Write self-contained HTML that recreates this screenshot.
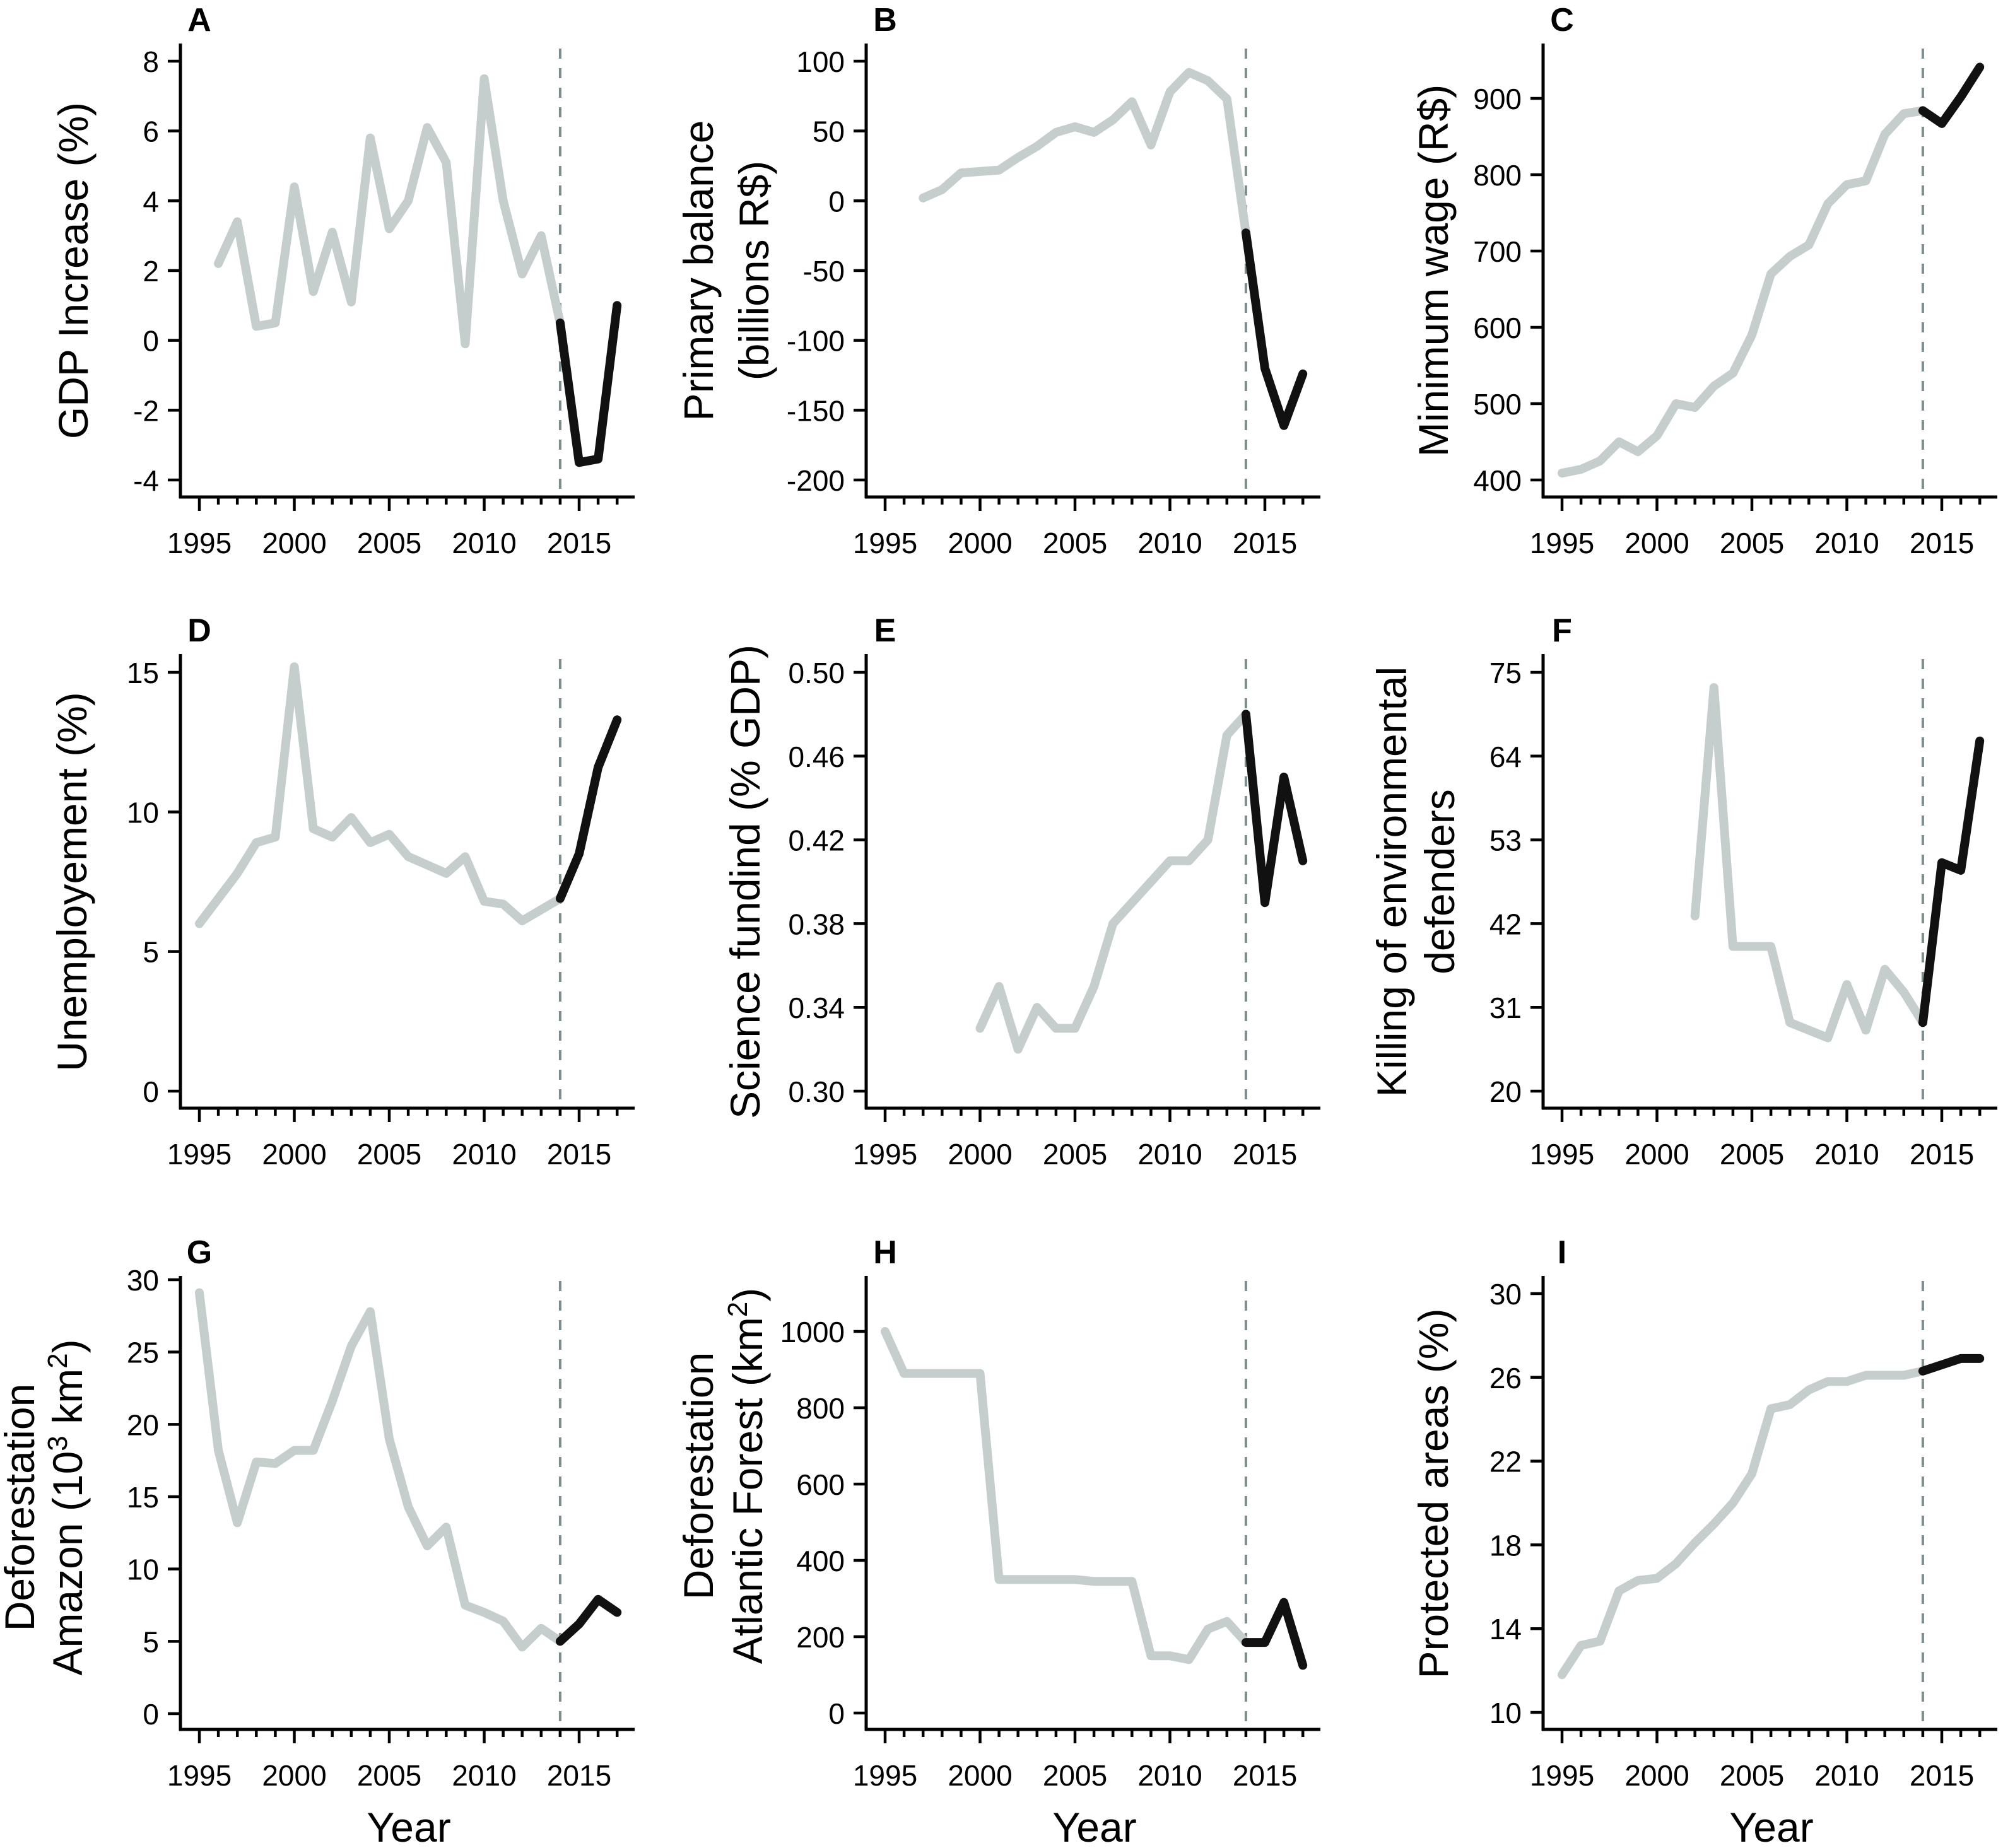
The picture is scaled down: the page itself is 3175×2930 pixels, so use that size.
<!DOCTYPE html>
<html>
<head>
<meta charset="utf-8">
<style>
html,body{margin:0;padding:0;background:#fff;}
svg{display:block;}
text{font-family:"Liberation Sans",Arial,sans-serif;fill:#000;}
</style>
</head>
<body>
<svg id="fig" xmlns="http://www.w3.org/2000/svg" width="3175" height="2930" viewBox="0 0 3175 2930"></svg>
<script>
// ---------- data ----------
const yearsA = [1996,1997,1998,1999,2000,2001,2002,2003,2004,2005,2006,2007,2008,2009,2010,2011,2012,2013,2014];
const valsA = [2.2,3.4,0.4,0.5,4.4,1.4,3.1,1.1,5.8,3.2,4.0,6.1,5.1,-0.1,7.5,4.0,1.9,3.0,0.5];
const yearsAb = [2014,2015,2016,2017];
const valsAb = [0.5,-3.5,-3.4,1.0];
const ticksA = [-4,-2,0,2,4,6,8];

const yearsB = [1997,1998,1999,2000,2001,2002,2003,2004,2005,2006,2007,2008,2009,2010,2011,2012,2013,2014];
const valsB = [2,8,20,21,22,31,39,49,53,49,58,71,40,78,92,86,73,-23];
const yearsBb = [2014,2015,2016,2017];
const valsBb = [-23,-120,-161,-124];
const ticksB = [-200,-150,-100,-50,0,50,100];

const yearsC = [1995,1996,1997,1998,1999,2000,2001,2002,2003,2004,2005,2006,2007,2008,2009,2010,2011,2012,2013,2014];
const valsC = [409,414,425,450,437,458,500,495,523,540,590,670,693,708,762,787,792,853,880,884];
const yearsCb = [2014,2015,2016,2017];
const valsCb = [884,867,902,941];
const ticksC = [400,500,600,700,800,900];

const yearsD = [1995,1996,1997,1998,1999,2000,2001,2002,2003,2004,2005,2006,2007,2008,2009,2010,2011,2012,2013,2014];
const valsD = [6.0,6.9,7.8,8.9,9.1,15.2,9.4,9.1,9.8,8.9,9.2,8.4,8.1,7.8,8.4,6.8,6.7,6.1,6.5,6.9];
const yearsDb = [2014,2015,2016,2017];
const valsDb = [6.9,8.5,11.6,13.3];
const ticksD = [0,5,10,15];

const yearsE = [2000,2001,2002,2003,2004,2005,2006,2007,2008,2009,2010,2011,2012,2013,2014];
const valsE = [0.33,0.35,0.32,0.34,0.33,0.33,0.35,0.38,0.39,0.40,0.41,0.41,0.42,0.47,0.48];
const yearsEb = [2014,2015,2016,2017];
const valsEb = [0.48,0.39,0.45,0.41];
const ticksE = [0.30,0.34,0.38,0.42,0.46,0.50];

const yearsF = [2002,2003,2004,2005,2006,2007,2008,2009,2010,2011,2012,2013,2014];
const valsF = [43,73,39,39,39,29,28,27,34,28,36,33,29];
const yearsFb = [2014,2015,2016,2017];
const valsFb = [29,50,49,66];
const ticksF = [20,31,42,53,64,75];

const yearsG = [1995,1996,1997,1998,1999,2000,2001,2002,2003,2004,2005,2006,2007,2008,2009,2010,2011,2012,2013,2014];
const valsG = [29.1,18.2,13.2,17.4,17.3,18.2,18.2,21.6,25.4,27.8,19.0,14.3,11.6,12.9,7.5,7.0,6.4,4.6,5.9,5.0];
const yearsGb = [2014,2015,2016,2017];
const valsGb = [5.0,6.2,7.9,7.0];
const ticksG = [0,5,10,15,20,25,30];

const yearsH = [1995,1996,1997,1998,1999,2000,2001,2002,2003,2004,2005,2006,2007,2008,2009,2010,2011,2012,2013,2014];
const valsH = [1000,890,890,890,890,890,350,350,350,350,350,345,345,345,150,150,140,220,240,185];
const yearsHb = [2014,2015,2016,2017];
const valsHb = [185,185,290,125];
const ticksH = [0,200,400,600,800,1000];

const yearsI = [1995,1996,1997,1998,1999,2000,2001,2002,2003,2004,2005,2006,2007,2008,2009,2010,2011,2012,2013,2014];
const valsI = [11.8,13.2,13.4,15.8,16.3,16.4,17.1,18.1,19.0,20.0,21.4,24.5,24.7,25.4,25.8,25.8,26.1,26.1,26.1,26.3];
const yearsIb = [2014,2015,2016,2017];
const valsIb = [26.3,26.6,26.9,26.9];
const ticksI = [10,14,18,22,26,30];

const xTickYears = [1995,2000,2005,2010,2015];
const cutYear = 2014;

// ---------- layout ----------
const NS = "http://www.w3.org/2000/svg";
const svg = document.getElementById('fig');
function el(tag, attrs, parent){
  const e = document.createElementNS(NS, tag);
  for (const k in attrs) e.setAttribute(k, attrs[k]);
  (parent||svg).appendChild(e);
  return e;
}
const colX = [286, 1373, 2446];
const rowAxisY = [788, 1757, 2742];
const rowTopY = [69, 1037, 2023];

function panel(cfg){
  const ax = colX[cfg.col], axY = rowAxisY[cfg.row], top = rowTopY[cfg.row];
  const g = el('g', {});
  
  
  const xs = yr => ax + 30 + (yr - 1995) * 30.1;
  const ys = v => cfg.p0 + (v - cfg.t0) * (cfg.p1 - cfg.p0) / (cfg.t1 - cfg.t0);
  const yAxis = el('line', {x1:ax, y1:top, x2:ax, y2:axY+2, stroke:'#000','stroke-width':5}, g);
  
  
  const xAxis = el('line', {x1:ax-2, y1:axY, x2:ax+720, y2:axY, stroke:'#000','stroke-width':5}, g);
  
  
  for (let yr = 1995; yr <= 2017; yr++){
    const major = (yr % 5 === 0);
    el('line', {x1:xs(yr), y1:axY, x2:xs(yr), y2:axY + (major?22:12), stroke:'#000','stroke-width':4.5}, g);
  }
  xTickYears.forEach(yr => {
    const t = el('text', {x:xs(yr), y:axY+89, 'font-size':46, 'text-anchor':'middle'}, g);
    t.textContent = yr;
    
    
  });
  cfg.ticks.forEach(v => {
    const y = ys(v);
    el('line', {x1:ax-20, y1:y, x2:ax, y2:y, stroke:'#000','stroke-width':4.5}, g);
    const t = el('text', {x:ax-34, y:y+17, 'font-size':46, 'text-anchor':'end'}, g);
    t.textContent = cfg.fmt ? cfg.fmt(v) : v;
    
    
  });
  const d = el('line', {x1:xs(cutYear), y1:top+8, x2:xs(cutYear), y2:axY, stroke:'#7d8d8d','stroke-width':4,'stroke-dasharray':'16 15'}, g);
  
  
  const pts = (xsArr, vArr) => xsArr.map((yr,i) => xs(yr).toFixed(1) + ',' + ys(vArr[i]).toFixed(1)).join(' ');
  const gl = el('polyline', {points:pts(cfg.years, cfg.vals), fill:'none', stroke:'#c5cecd','stroke-width':14,'stroke-linejoin':'round','stroke-linecap':'round'}, g);
  
  
  const bl = el('polyline', {points:pts(cfg.yearsB, cfg.valsB), fill:'none', stroke:'#111','stroke-width':14,'stroke-linejoin':'round','stroke-linecap':'round'}, g);
  
  
  const L = el('text', {x:xs(1995), y:top-20, 'font-size':52, 'font-weight':'bold', 'text-anchor':'middle'}, g);
  L.textContent = cfg.letter;
  
  
  cfg.title.forEach((line, i) => {
    const tx = cfg.titleX[i], ty = cfg.titleY;
    const t = el('text', {x:tx, y:ty, 'font-size':66, 'text-anchor':'middle', transform:'rotate(-90 '+tx+' '+ty+')'}, g);
    t.innerHTML = line;
    
    
  });
  if (cfg.row === 2){
    const t = el('text', {x:ax+362, y:2920, 'font-size':66, 'text-anchor':'middle'}, g);
    t.textContent = 'Year';
    
    
  }
}

const sup = s => '<tspan baseline-shift="super" font-size="44">' + s + '</tspan>';

panel({letter:'A', col:0, row:0, years:yearsA, vals:valsA, yearsB:yearsAb, valsB:valsAb, ticks:ticksA, t0:-4, p0:761, t1:8, p1:97, title:['GDP Increase (%)'], titleX:[139], titleY:429});
panel({letter:'B', col:1, row:0, years:yearsB, vals:valsB, yearsB:yearsBb, valsB:valsBb, ticks:ticksB, t0:-200, p0:761, t1:100, p1:97, title:['Primary balance','(billions R$)'], titleX:[1130,1218], titleY:429});
panel({letter:'C', col:2, row:0, years:yearsC, vals:valsC, yearsB:yearsCb, valsB:valsCb, ticks:ticksC, t0:400, p0:761, t1:900, p1:156, title:['Minimum wage (R$)'], titleX:[2295], titleY:429});
panel({letter:'D', col:0, row:1, years:yearsD, vals:valsD, yearsB:yearsDb, valsB:valsDb, ticks:ticksD, t0:0, p0:1730, t1:15, p1:1066, title:['Unemployement (%)'], titleX:[137], titleY:1398});
panel({letter:'E', col:1, row:1, years:yearsE, vals:valsE, yearsB:yearsEb, valsB:valsEb, ticks:ticksE, t0:0.30, p0:1730, t1:0.50, p1:1066, fmt:v=>v.toFixed(2), title:['Science fundind (% GDP)'], titleX:[1204], titleY:1398});
panel({letter:'F', col:2, row:1, years:yearsF, vals:valsF, yearsB:yearsFb, valsB:valsFb, ticks:ticksF, t0:20, p0:1730, t1:75, p1:1066, title:['Killing of environmental','defenders'], titleX:[2229,2305], titleY:1398});
panel({letter:'G', col:0, row:2, years:yearsG, vals:valsG, yearsB:yearsGb, valsB:valsGb, ticks:ticksG, t0:0, p0:2717, t1:30, p1:2029, title:['Deforestation','Amazon  (10'+sup('3')+' km'+sup('2')+')'], titleX:[54,130], titleY:2390});
panel({letter:'H', col:1, row:2, years:yearsH, vals:valsH, yearsB:yearsHb, valsB:valsHb, ticks:ticksH, t0:0, p0:2716, t1:1000, p1:2111, title:['Deforestation','Atlantic Forest (km'+sup('2')+')'], titleX:[1130,1208], titleY:2340});
panel({letter:'I', col:2, row:2, years:yearsI, vals:valsI, yearsB:yearsIb, valsB:valsIb, ticks:ticksI, t0:10, p0:2715, t1:30, p1:2051, title:['Protected areas (%)'], titleX:[2295], titleY:2368});
</script>
</body>
</html>
